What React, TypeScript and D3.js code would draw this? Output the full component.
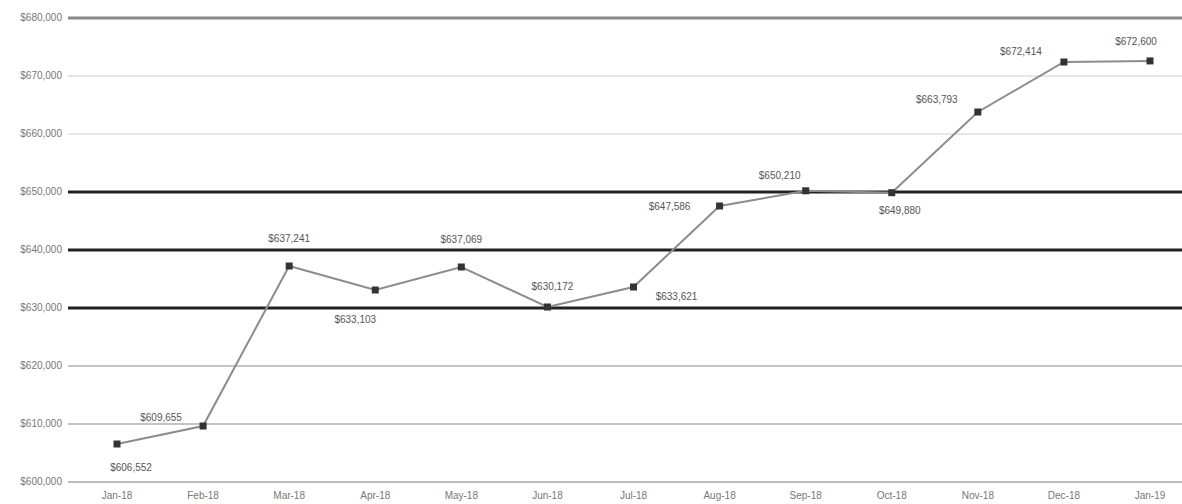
import React from "react";
import * as d3 from "d3";

const months = ["Jan-18", "Feb-18", "Mar-18", "Apr-18", "May-18", "Jun-18", "Jul-18", "Aug-18", "Sep-18", "Oct-18", "Nov-18", "Dec-18", "Jan-19"];
const prices = [606552, 609655, 637241, 633103, 637069, 630172, 633621, 647586, 650210, 649880, 663793, 672414, 672600];
const yTicks = [600000, 610000, 620000, 630000, 640000, 650000, 660000, 670000, 680000];

// value label offset from its point (layout only)
const labelDx = [14, -42, 0, -20, 0, 5, 43, -50, -26, 8, -41, -43, -14];
const labelDy = [27, -5, -24, 33, -24, -17, 13, 4, -12, 21, -9, -7, -16];

// grid line look per tick, bottom to top
const gridStroke = ["#bdbdbd", "#c4c4c4", "#c4c4c4", "#222", "#222", "#222", "#e6e6e6", "#e6e6e6", "#8a8a8a"];
const gridWidth = [2, 2, 2, 3, 3, 3, 2, 2, 3];

const W = 1182;
const H = 504;
const fmt = d3.format("$,.0f");

const App: React.FC = () => {
  const x = d3.scalePoint<string>().domain(months).range([117, 1150]);
  const y = d3.scaleLinear().domain([600000, 680000]).range([482, 18]);

  const line = d3
    .line<number>()
    .x((_, i) => x(months[i])!)
    .y((d) => y(d));

  return (
    <svg
      width={W}
      height={H}
      style={{ position: "absolute", left: 0, top: 0, background: "#fff", fontFamily: "Liberation Sans, Arial, sans-serif" }}
    >
      {yTicks.map((t, i) => (
        <g key={t}>
          <line x1={68} x2={W} y1={y(t)} y2={y(t)} stroke={gridStroke[i]} strokeWidth={gridWidth[i]} />
          <text x={62} y={y(t) + 3} textAnchor="end" fontSize={10} fill="#777">
            {fmt(t)}
          </text>
        </g>
      ))}
      {months.map((m) => (
        <text key={m} x={x(m)} y={499} textAnchor="middle" fontSize={10} fill="#777">
          {m}
        </text>
      ))}
      <path d={line(prices) || ""} fill="none" stroke="#8c8c8c" strokeWidth={2} />
      {prices.map((v, i) => {
        const px = x(months[i])!;
        const py = y(v);
        return (
          <g key={i}>
            <rect x={px - 3.5} y={py - 3.5} width={7} height={7} fill="#333" />
            <text x={px + labelDx[i]} y={py + labelDy[i]} textAnchor="middle" fontSize={10} fill="#555">
              {fmt(v)}
            </text>
          </g>
        );
      })}
    </svg>
  );
};

export default App;
